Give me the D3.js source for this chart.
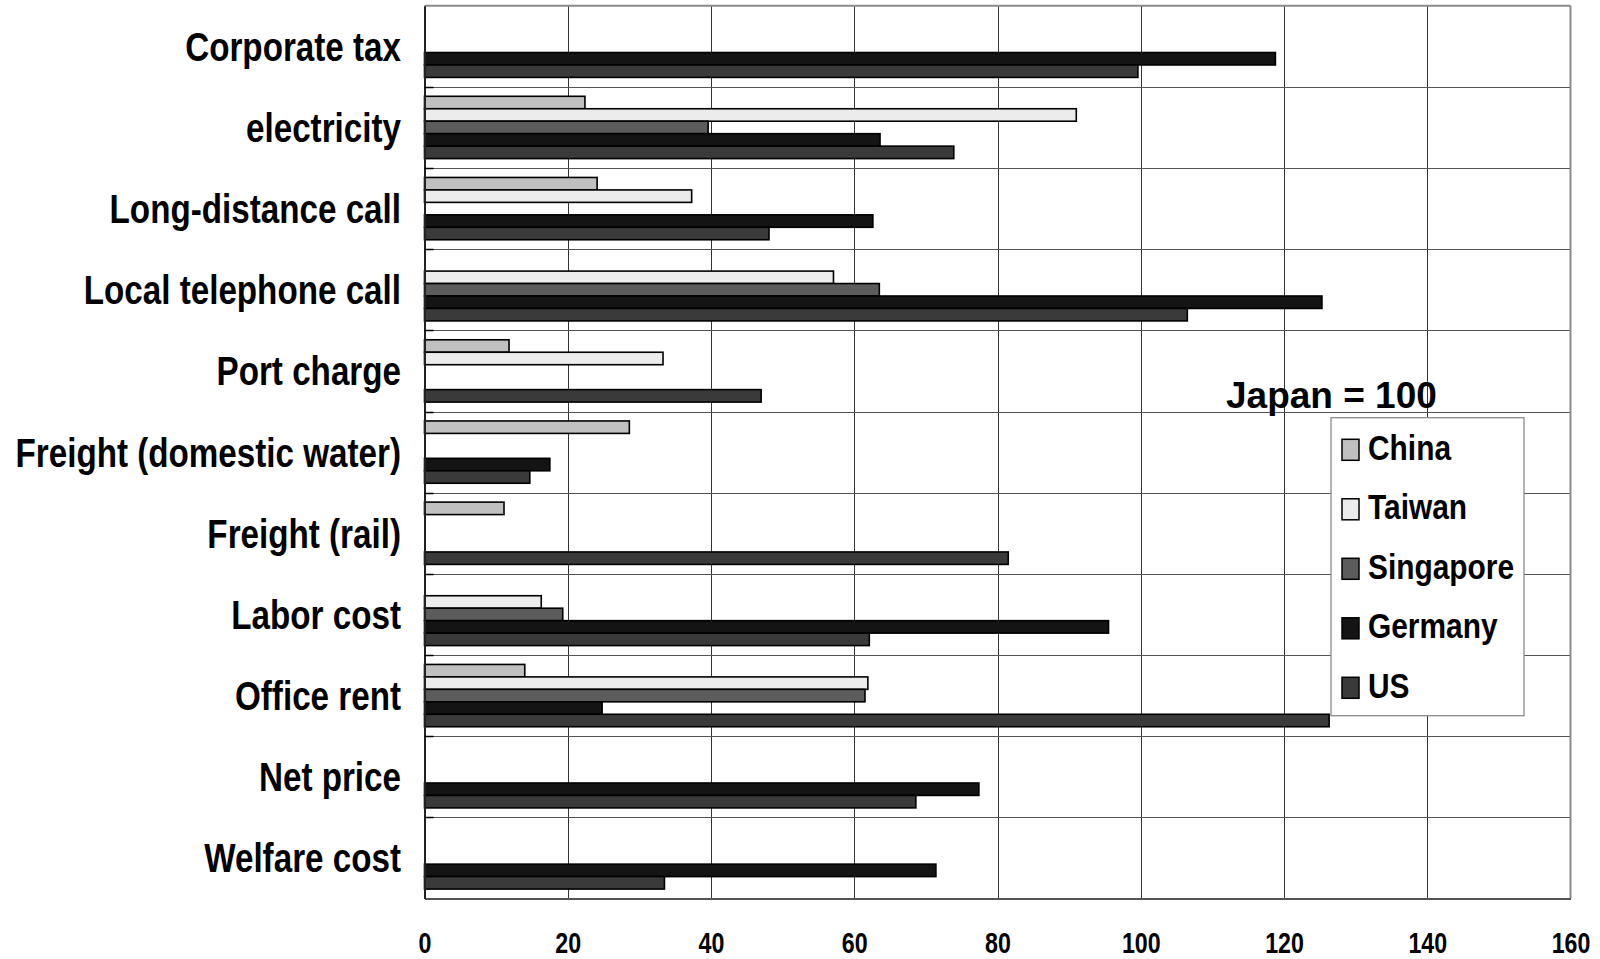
<!DOCTYPE html>
<html>
<head>
<meta charset="utf-8">
<script src="https://cdn.jsdelivr.net/npm/d3@7"></script>
<style>
  html, body { margin: 0; padding: 0; background: #fff; }
  svg { display: block; }
  text { font-family: "Liberation Sans", Arial, sans-serif; font-weight: bold; fill: #000; }
</style>
</head>
<body>
<svg id="chart" width="1600" height="959"></svg>
<script>
// ---- Data (Japan = 100) ----
const categories = ["Corporate tax", "electricity", "Long-distance call", "Local telephone call",
  "Port charge", "Freight (domestic water)", "Freight (rail)", "Labor cost",
  "Office rent", "Net price", "Welfare cost"];
const seriesNames = ["China", "Taiwan", "Singapore", "Germany", "US"];
const china     = [null, 22.4, 24.1, null, 11.8, 28.6, 11.1, null, 14.0, null, null];
const taiwan    = [null, 91.0, 37.3, 57.1, 33.3, null, null, 16.3, 61.9, null, null];
const singapore = [null, 39.6, null, 63.5, null, null, null, 19.3, 61.5, null, null];
const germany   = [118.8, 63.6, 62.6, 125.3, null, 17.5, null, 95.5, 24.8, 77.4, 71.4];
const us        = [99.6, 73.9, 48.1, 106.5, 47.0, 14.7, 81.5, 62.1, 126.3, 68.6, 33.5];
const seriesColors = ["#c0c0c0", "#ececec", "#5c5c5c", "#141414", "#3a3a3a"];
const xTicks = [0, 20, 40, 60, 80, 100, 120, 140, 160];
const noteText = "Japan = 100";

const seriesValues = [china, taiwan, singapore, germany, us];

// ---- Layout ----
const svg = d3.select("#chart");
const pLeft = 424.5, pRight = 1570.5, pTop = 5.7, pBottom = 898.5;

const x = d3.scaleLinear().domain([0, 160]).range([pLeft, pRight]);
const y0 = d3.scaleBand().domain(categories).range([pTop, pBottom]);
const y1 = d3.scaleBand().domain(seriesNames).range([0, y0.bandwidth()]).paddingOuter(0.757);
const color = d3.scaleOrdinal().domain(seriesNames).range(seriesColors);

// vertical gridlines
svg.append("g")
  .selectAll("line").data(xTicks.slice(1, -1)).join("line")
  .attr("x1", d => Math.round(x(d)) + 0.5).attr("x2", d => Math.round(x(d)) + 0.5)
  .attr("y1", pTop).attr("y2", pBottom)
  .attr("stroke", "#333").attr("stroke-width", 1);

// horizontal gridlines at category boundaries
svg.append("g")
  .selectAll("line").data(categories.slice(1)).join("line")
  .attr("x1", pLeft).attr("x2", pRight)
  .attr("y1", d => Math.round(y0(d)) + 0.5).attr("y2", d => Math.round(y0(d)) + 0.5)
  .attr("stroke", "#555").attr("stroke-width", 1);

// bars
const barData = [];
seriesNames.forEach((s, si) => {
  categories.forEach((c, ci) => {
    const v = seriesValues[si][ci];
    if (v !== null) barData.push({ s, c, v });
  });
});
svg.append("g")
  .selectAll("rect").data(barData).join("rect")
  .attr("x", x(0))
  .attr("y", d => y0(d.c) + y1(d.s))
  .attr("width", d => x(d.v) - x(0))
  .attr("height", y1.bandwidth())
  .attr("fill", d => color(d.s))
  .attr("stroke", "#000")
  .attr("stroke-width", 1.6);

// plot frame: top & right gray
svg.append("line").attr("x1", pLeft).attr("x2", pRight).attr("y1", pTop).attr("y2", pTop)
  .attr("stroke", "#8a8a8a").attr("stroke-width", 2);
svg.append("line").attr("x1", pRight).attr("x2", pRight).attr("y1", pTop).attr("y2", pBottom)
  .attr("stroke", "#8a8a8a").attr("stroke-width", 2);

// x axis
const xAxis = svg.append("g")
  .attr("transform", `translate(0,${pBottom})`)
  .call(d3.axisBottom(x).tickValues(xTicks).tickSize(0).tickPadding(0));
xAxis.select(".domain").attr("stroke", "#555").attr("stroke-width", 2);
xAxis.selectAll("text")
  .attr("x", 0).attr("y", 0).attr("dy", null)
  .attr("transform", "translate(0,54) scale(0.8,1)")
  .attr("text-anchor", "middle")
  .style("font-size", "29px").style("font-family", "'Liberation Sans', Arial, sans-serif")
  .style("font-weight", "bold").attr("fill", "#000");

// y axis
const yAxis = svg.append("g")
  .attr("transform", `translate(${pLeft},0)`)
  .call(d3.axisLeft(y0).tickSize(0).tickPadding(0));
yAxis.select(".domain").attr("stroke", "#222").attr("stroke-width", 2);
yAxis.selectAll("text")
  .attr("x", 0).attr("dy", null)
  .attr("transform", "translate(-23.5,14.5) scale(0.83,1)")
  .attr("text-anchor", "end")
  .style("font-size", "40px").style("font-family", "'Liberation Sans', Arial, sans-serif")
  .style("font-weight", "bold").attr("fill", "#000");

// small inward ticks on left axis at category boundaries
svg.append("g")
  .selectAll("line").data(categories.slice(1)).join("line")
  .attr("x1", pLeft).attr("x2", pLeft + 9)
  .attr("y1", d => Math.round(y0(d)) + 0.5).attr("y2", d => Math.round(y0(d)) + 0.5)
  .attr("stroke", "#000").attr("stroke-width", 1.5);

// note
svg.append("text")
  .attr("x", 1226).attr("y", 408)
  .style("font-size", "37px")
  .text(noteText);

// legend
const lg = svg.append("g").attr("transform", "translate(1331,417.7)");
lg.append("rect").attr("x", 0).attr("y", 0).attr("width", 193).attr("height", 298)
  .attr("fill", "#fff").attr("stroke", "#8a8a8a").attr("stroke-width", 1.3);
const item = lg.selectAll("g.item").data(seriesNames).join("g")
  .attr("class", "item")
  .attr("transform", (d, i) => `translate(0,${32.1 + i * 59.5})`);
item.append("rect")
  .attr("x", 11).attr("y", -10.5).attr("width", 17).attr("height", 21)
  .attr("fill", d => color(d)).attr("stroke", "#000").attr("stroke-width", 1.5);
item.append("text")
  .attr("transform", "translate(37,10) scale(0.83,1)")
  .style("font-size", "36px")
  .text(d => d);
</script>
</body>
</html>
